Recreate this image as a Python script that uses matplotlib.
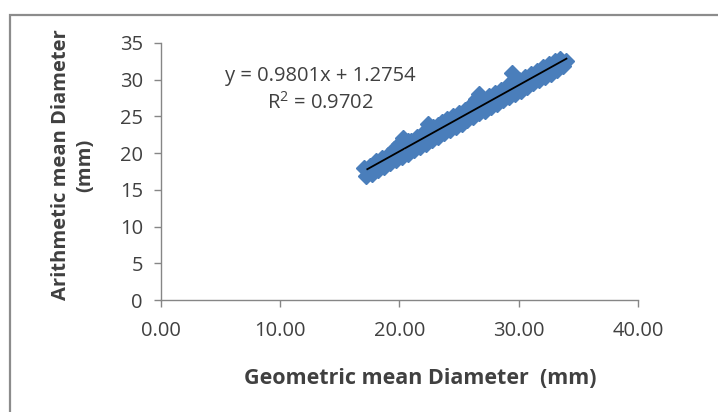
import numpy as np
import matplotlib
matplotlib.use("Agg")
import matplotlib.pyplot as plt
from matplotlib.patches import Rectangle

# Data (geometric mean vs arithmetic mean diameter, mm)
geo_upper = [17.0, 17.5, 18.0, 18.5, 19.0, 19.5, 20.0, 20.3, 20.7, 21.0, 21.5, 22.0, 22.4, 22.8,
             23.2, 23.6, 24.0, 24.5, 25.0, 25.5, 26.0, 26.4, 26.7, 27.0, 27.5, 28.0, 28.5, 29.0,
             29.4, 29.7, 30.0, 30.5, 31.0, 31.5, 32.0, 32.5, 33.0, 33.5, 34.0]
ari_upper = [18.0, 18.3, 18.9, 19.4, 19.8, 20.6, 21.3, 22.1, 21.6, 21.7, 22.2, 22.8, 24.0, 23.6,
             23.9, 24.3, 24.7, 25.1, 25.5, 25.9, 26.5, 27.4, 28.0, 27.3, 27.8, 28.2, 28.6, 29.2,
             30.9, 30.3, 29.9, 30.4, 30.8, 31.2, 31.7, 32.1, 32.5, 32.8, 32.6]
geo_lower = [17.2, 17.7, 18.2, 18.7, 19.2, 19.7, 20.2, 20.7, 21.2, 21.7, 22.2, 22.7, 23.2, 23.7,
             24.2, 24.7, 25.2, 25.7, 26.2, 26.7, 27.2, 27.7, 28.2, 28.7, 29.2, 29.7, 30.2, 30.7,
             31.2, 31.7, 32.2, 32.7, 33.2, 33.7]
ari_lower = [16.9, 17.2, 17.7, 18.1, 18.6, 19.0, 19.5, 19.9, 20.4, 20.8, 21.3, 21.8, 22.2, 22.7,
             23.1, 23.6, 24.0, 24.5, 24.9, 25.4, 25.8, 26.3, 26.7, 27.2, 27.6, 28.1, 28.5, 29.0,
             29.5, 29.9, 30.4, 30.8, 31.3, 31.8]

x_ticks = [0, 10, 20, 30, 40]
x_tick_labels = ["0.00", "10.00", "20.00", "30.00", "40.00"]
y_ticks = [0, 5, 10, 15, 20, 25, 30, 35]
equation_text = "y = 0.9801x + 1.2754\nR$^2$ = 0.9702"

geo = np.array(geo_upper + geo_lower)
ari = np.array(ari_upper + ari_lower)

FONT = ["Open Sans", "DejaVu Sans"]
plt.rcParams["font.family"] = FONT
plt.rcParams["mathtext.fontset"] = "custom"
plt.rcParams["mathtext.rm"] = "Open Sans"

fig = plt.figure(figsize=(7.18, 4.12), dpi=100)
ax = fig.add_axes([161 / 718, 1 - 300 / 412, (638 - 161) / 718, (300 - 43) / 412])

ax.plot(geo, ari, linestyle="none", marker="D", markersize=8,
        color="#4A7EBB", markeredgecolor="#4A7EBB", zorder=2)

coef = np.polyfit(geo, ari, 1)
xl = np.array([geo.min() + 0.3, geo.max()])
ax.plot(xl, np.polyval(coef, xl), color="black", linewidth=1.3, zorder=3)

ax.set_xlim(0, 40)
ax.set_ylim(0, 35)
ax.set_xticks(x_ticks)
ax.set_xticklabels(x_tick_labels)
ax.set_yticks(y_ticks)

for s in ["top", "right"]:
    ax.spines[s].set_visible(False)
for s in ["left", "bottom"]:
    ax.spines[s].set_color("#868686")
    ax.spines[s].set_linewidth(1.0)
ax.tick_params(axis="both", direction="out", length=5, width=1.0, color="#868686",
               labelsize=14.5, labelcolor="#404040")
ax.tick_params(axis="y", pad=8)
ax.tick_params(axis="x", pad=10)

fig.text(320 / 718, 1 - 90 / 412, equation_text, ha="center", va="center",
         fontsize=14.5, color="#404040", linespacing=1.35)

fig.text(420 / 718, 1 - 378 / 412, "Geometric mean Diameter  (mm)", ha="center", va="center",
         fontsize=15.5, fontweight="bold", color="#404040")
fig.text(73 / 718, 1 - 165 / 412, "Arithmetic mean Diameter\n(mm)", ha="center", va="center",
         rotation=90, fontsize=14.5, fontweight="bold", color="#404040", linespacing=1.3,
         multialignment="center")

fig.patches.append(Rectangle((9.5 / 718, -0.1), 1.2, 1 - 15 / 412 + 0.1,
                             transform=fig.transFigure, fill=False,
                             edgecolor="#8c8c8c", linewidth=1.6, clip_on=False))

fig.savefig("out.png", dpi=100, facecolor="white")
